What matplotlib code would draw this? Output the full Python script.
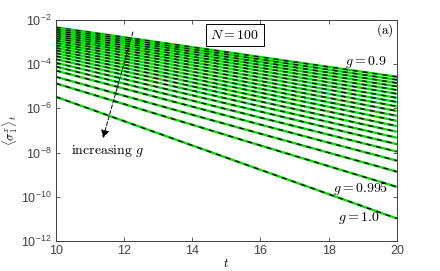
import numpy as np
import matplotlib
matplotlib.use("Agg")
import matplotlib.pyplot as plt
from matplotlib.ticker import FixedLocator, NullLocator

plt.rcParams['font.family'] = ['Liberation Sans', 'DejaVu Sans']
plt.rcParams['mathtext.fontset'] = 'cm'

# g values, one curve each
g_vals = [0.9, 0.905, 0.91, 0.915, 0.92, 0.925, 0.93, 0.935, 0.94, 0.945, 0.95,
          0.955, 0.96, 0.965, 0.97, 0.975, 0.98, 0.985, 0.99, 0.995, 1.0]

t_ends = [10, 20]
log_start = [-2.331, -2.403, -2.480, -2.562, -2.648, -2.739, -2.834, -2.933, -3.038,
             -3.146, -3.260, -3.377, -3.500, -3.631, -3.772, -3.935, -4.107, -4.288,
             -4.569, -4.868, -5.475]
log_end = [-4.569, -4.705, -4.850, -5.004, -5.168, -5.340, -5.521, -5.712, -5.910,
           -6.119, -6.336, -6.563, -6.803, -7.057, -7.329, -7.618, -7.958, -8.366,
           -8.864, -9.553, -10.985]

x_ticks = [10, 12, 14, 16, 18, 20]
y_ticks = [1e-12, 1e-10, 1e-8, 1e-6, 1e-4, 1e-2]

AX_COL = '#404040'

fig = plt.figure(figsize=(4.4, 2.71), dpi=100)
ax = fig.add_axes([0.127, 0.111, 0.775, 0.815])

for g, a, b in zip(g_vals, log_start, log_end):
    y = [10.0 ** a, 10.0 ** b]
    # exact result (green) and approximation (black dashed)
    ax.plot(t_ends, y, color='#00e000', lw=1.7, solid_capstyle='butt')
    ax.plot(t_ends, y, color='k', lw=1.0, linestyle=(0, (3.6, 3.6)))

ax.set_yscale('log')
ax.set_xlim(10, 20)
ax.set_ylim(1e-12, 1e-2)
ax.xaxis.set_major_locator(FixedLocator(x_ticks))
ax.yaxis.set_major_locator(FixedLocator(y_ticks))
ax.yaxis.set_minor_locator(NullLocator())
ax.tick_params(direction='in', top=True, right=True, length=3, width=0.6,
               labelsize=9, colors=AX_COL, pad=3)
for s in ax.spines.values():
    s.set_color(AX_COL)
    s.set_linewidth(0.7)

ax.set_xlabel(r'$t$', fontsize=9, labelpad=0)
ax.set_ylabel(r'$\langle\sigma_1^x\rangle_t$', fontsize=9, labelpad=1)

# annotations
ax.text(15.25, 10 ** -2.68, r'$N = 100$', fontsize=10, ha='center', va='center',
        bbox=dict(boxstyle='square,pad=0.3', fc='white', ec='k', lw=0.7))
ax.text(19.65, 10 ** -2.45, r'$\mathrm{(a)}$', fontsize=9.5, ha='center', va='center')
ax.text(19.1, 10 ** -3.9, r'$g = 0.9$', fontsize=10, ha='center', va='center')
ax.text(18.95, 10 ** -9.62, r'$g = 0.995$', fontsize=10, ha='center', va='center')
ax.text(18.88, 10 ** -10.97, r'$g = 1.0$', fontsize=10, ha='center', va='center')
ax.text(11.5, 10 ** -7.92, r'$\mathrm{increasing}\ g$', fontsize=10, ha='center', va='center')

ax.annotate('', xy=(11.38, 10 ** -7.35), xytext=(12.26, 10 ** -2.54),
            arrowprops=dict(arrowstyle='-|>', color='k', lw=0.7, linestyle=(0, (4, 2)),
                            mutation_scale=12, shrinkA=0, shrinkB=0))

fig.savefig('out.png', dpi=100)
